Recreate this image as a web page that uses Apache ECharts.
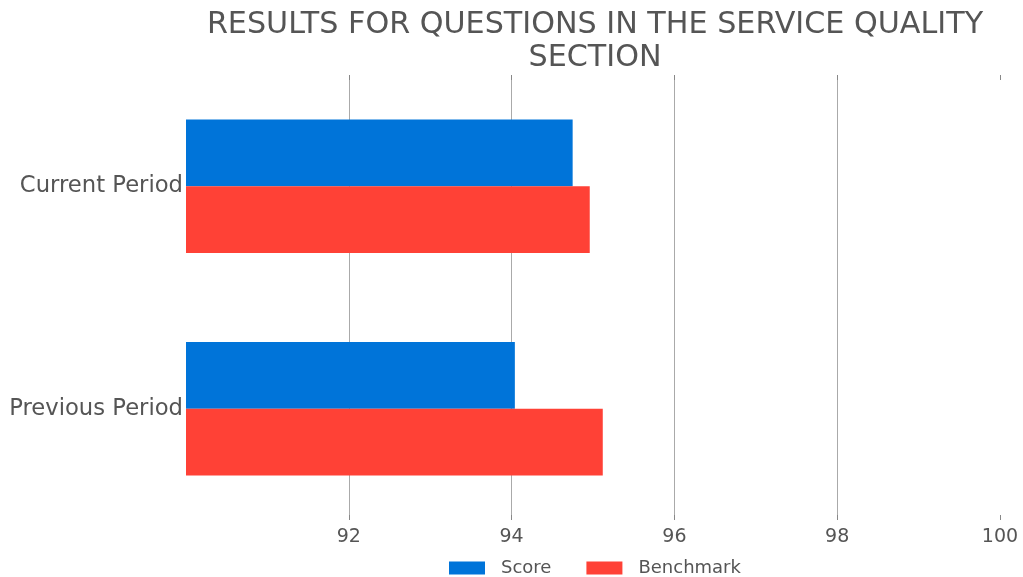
<!DOCTYPE html>
<html>
<head>
<meta charset="utf-8">
<script src="https://cdn.jsdelivr.net/npm/echarts@6/dist/echarts.min.js"></script>
<style>html,body{margin:0;padding:0;background:#fff}#c{width:1023px;height:577px}</style>
</head>
<body>
<div id="c"></div>
<script>
const categories = ['Current Period', 'Previous Period'];
const scoreValues = [94.75, 94.04];
const benchmarkValues = [94.96, 95.12];
const seriesNames = ['Score', 'Benchmark'];
const tickValues = [92, 94, 96, 98, 100];
const titleText = 'RESULTS FOR QUESTIONS IN THE SERVICE QUALITY\nSECTION';

const chart = echarts.init(document.getElementById('c'));
const font = 'DejaVu Sans';
const valueAxisBase = {
  type: 'value', min: 90, max: 100, interval: 2,
  axisLine: {show: false}
};
chart.setOption({
  animation: false,
  textStyle: {fontFamily: font},
  title: {
    text: titleText, left: 590, textAlign: 'center', top: 4,
    textStyle: {fontFamily: font, fontSize: 30.2, fontWeight: 'normal', color: '#555', lineHeight: 33}
  },
  legend: {
    data: seriesNames, top: 554, left: 444,
    itemWidth: 36, itemHeight: 13, itemGap: 35,
    icon: 'rect',
    textStyle: {fontFamily: font, fontSize: 18, color: '#555', padding: [0, 0, 0, 11]}
  },
  grid: {left: 186, right: 23, top: 75, bottom: 57, containLabel: false},
  xAxis: [
    Object.assign({}, valueAxisBase, {
      position: 'bottom',
      axisTick: {show: true, inside: true, length: 5, customValues: tickValues, lineStyle: {color: '#888'}},
      axisLabel: {customValues: tickValues, fontFamily: font, fontSize: 19, color: '#555', margin: 8},
      splitLine: {show: true, showMaxLine: false, lineStyle: {color: '#aaa', width: 1}}
    }),
    Object.assign({}, valueAxisBase, {
      position: 'top',
      axisTick: {show: true, inside: true, length: 5, customValues: tickValues, lineStyle: {color: '#888'}},
      axisLabel: {show: false},
      splitLine: {show: false}
    })
  ],
  yAxis: {
    type: 'category', data: categories, inverse: true,
    axisLine: {show: false}, axisTick: {show: false},
    axisLabel: {fontFamily: font, fontSize: 22.7, color: '#555', margin: 3, padding: [4, 0, 0, 0]}
  },
  series: [
    {name: seriesNames[0], type: 'bar', data: scoreValues, barGap: '0%', barCategoryGap: '40%',
     itemStyle: {color: '#0074D9'}},
    {name: seriesNames[1], type: 'bar', data: benchmarkValues, barGap: '0%', barCategoryGap: '40%',
     itemStyle: {color: '#FF4136'}}
  ]
});
</script>
</body>
</html>
